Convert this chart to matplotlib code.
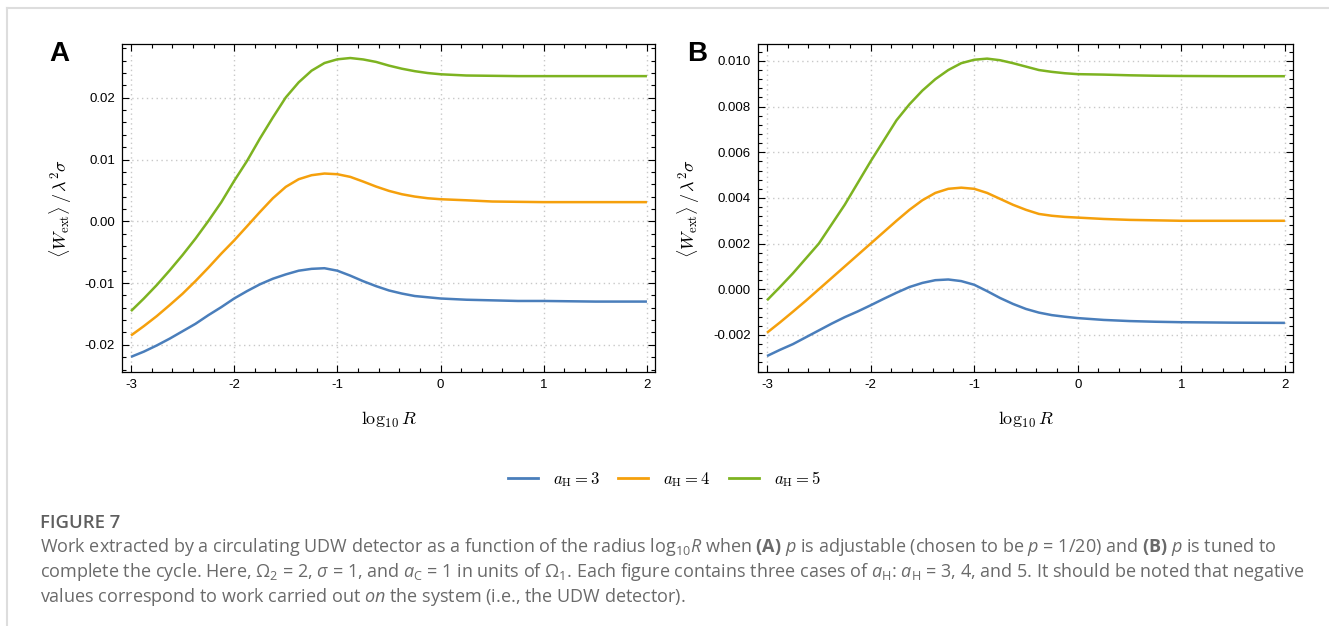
import matplotlib
matplotlib.use("Agg")
import matplotlib.pyplot as plt
from matplotlib.ticker import MultipleLocator, FormatStrFormatter
from matplotlib.lines import Line2D

plt.rcParams["axes.unicode_minus"] = False
plt.rcParams["font.family"] = ["Liberation Sans", "DejaVu Sans"]
plt.rcParams["mathtext.fontset"] = "custom"
plt.rcParams["mathtext.rm"] = "Open Sans"
plt.rcParams["mathtext.it"] = "Open Sans:italic"
plt.rcParams["mathtext.bf"] = "Open Sans:bold"

# values
log_r = [-3, -2.875, -2.75, -2.625, -2.5, -2.375, -2.25, -2.125, -2, -1.875,
         -1.75, -1.625, -1.5, -1.375, -1.25, -1.125, -1, -0.875, -0.75, -0.625,
         -0.5, -0.375, -0.25, -0.125, 0, 0.25, 0.5, 0.75, 1, 1.5, 2]

# panel A (p = 1/20)
a_h3 = [-0.02195, -0.0211, -0.0201, -0.0190, -0.0178, -0.0166, -0.0152, -0.0139,
        -0.0125, -0.0113, -0.0102, -0.0093, -0.0086, -0.0080, -0.0077, -0.0076,
        -0.0080, -0.0088, -0.0097, -0.0105, -0.0112, -0.0117, -0.0121, -0.0123,
        -0.0125, -0.0127, -0.0128, -0.0129, -0.0129, -0.0130, -0.0130]
a_h4 = [-0.01849, -0.01697, -0.01535, -0.01357, -0.01173, -0.00968, -0.00751,
        -0.00524, -0.0031, -0.0008, 0.00151, 0.00373, 0.00557, 0.00681, 0.00746,
        0.00773, 0.00762, 0.00719, 0.00643, 0.00562, 0.00492, 0.00438, 0.00400,
        0.00373, 0.00357, 0.0034, 0.0032, 0.00315, 0.0031, 0.0031, 0.0031]
a_h5 = [-0.01454, -0.0125, -0.01032, -0.00795, -0.00546, -0.00281, 0.00005,
        0.00308, 0.00654, 0.00978, 0.01341, 0.01681, 0.02005, 0.02249, 0.02438,
        0.02562, 0.02622, 0.02643, 0.0262, 0.0258, 0.0252, 0.0247, 0.0243,
        0.0240, 0.0238, 0.0236, 0.02355, 0.0235, 0.0235, 0.0235, 0.0235]

# panel B (p tuned)
b_h3 = [-0.00292, -0.00265, -0.0024, -0.0021, -0.0018, -0.0015, -0.00122, -0.00097,
        -0.0007, -0.00042, -0.00015, 0.0001, 0.00028, 0.0004, 0.00043, 0.00036,
        0.0002, -0.00008, -0.00038, -0.00064, -0.00086, -0.00102, -0.00113,
        -0.0012, -0.00126, -0.00134, -0.00139, -0.00142, -0.00144, -0.00146, -0.00147]
b_h4 = [-0.0019, -0.00145, -0.00098, -0.0005, 0.0000, 0.0005, 0.0010, 0.0015,
        0.0020, 0.0025, 0.0030, 0.00348, 0.0039, 0.00422, 0.0044, 0.00445,
        0.0044, 0.00422, 0.00396, 0.0037, 0.00348, 0.0033, 0.00322, 0.00317,
        0.00314, 0.00308, 0.00304, 0.00302, 0.0030, 0.0030, 0.0030]
b_h5 = [-0.00048, 0.0001, 0.0007, 0.00135, 0.0020, 0.00285, 0.0037, 0.00465,
        0.0056, 0.0065, 0.0074, 0.0081, 0.0087, 0.0092, 0.0096, 0.0099,
        0.01005, 0.0101, 0.01003, 0.0099, 0.00975, 0.0096, 0.00952, 0.00946,
        0.00942, 0.0094, 0.00937, 0.00935, 0.00934, 0.00933, 0.00933]

labels = ["3", "4", "5"]
colors = ["#4a7ebb", "#f5a00c", "#7db321"]

fig = plt.figure(figsize=(13.29, 6.26), dpi=100)

# thin page frame
fig.add_artist(Line2D([7 / 1329, 1], [1 - 8 / 626] * 2, color="#dddddd", lw=1.5))
fig.add_artist(Line2D([7 / 1329] * 2, [0, 1 - 8 / 626], color="#dddddd", lw=1.5))

ax_a = fig.add_axes([122 / 1329, 1 - 372 / 626, 533 / 1329, 328 / 626])
ax_b = fig.add_axes([758 / 1329, 1 - 372 / 626, 535 / 1329, 328 / 626])

panels = [
    (ax_a, [a_h3, a_h4, a_h5], (-0.0244, 0.0287), 0.01, 0.002, "%.2f", "A", 59),
    (ax_b, [b_h3, b_h4, b_h5], (-0.00362, 0.01074), 0.002, 0.0004, "%.3f", "B", 697),
]

for ax, series, ylim, ymaj, ymin, fmt, letter, lx in panels:
    for ys, c in zip(series, colors):
        ax.plot(log_r, ys, color=c, lw=1.8, solid_capstyle="butt", solid_joinstyle="round")
    ax.set_xlim(-3.087, 2.078)
    ax.set_ylim(*ylim)
    ax.xaxis.set_major_locator(MultipleLocator(1))
    ax.xaxis.set_minor_locator(MultipleLocator(0.2))
    ax.yaxis.set_major_locator(MultipleLocator(ymaj))
    ax.yaxis.set_minor_locator(MultipleLocator(ymin))
    ax.yaxis.set_major_formatter(FormatStrFormatter(fmt))
    ax.tick_params(which="both", direction="in", top=True, right=True,
                   labelsize=9.5, width=0.8, pad=5)
    ax.tick_params(which="major", length=5)
    ax.tick_params(which="minor", length=3)
    ax.grid(True, which="major", color="#c8c8c8", ls=(0, (1, 2.5)), lw=1)
    for s in ax.spines.values():
        s.set_linewidth(0.9)
    ax.set_xlabel(r"$\log_{10} R$", fontsize=13, math_fontfamily="cm", labelpad=14)
    ax.set_ylabel(r"$\langle W_{\rm ext}\rangle\,/\,\lambda^2\sigma$", fontsize=13,
                  math_fontfamily="cm", labelpad=8)
    fig.text(lx / 1329, 1 - 61 / 626, letter, fontsize=20, fontweight="bold",
             ha="center", va="baseline")

handles = [Line2D([], [], color=c, lw=2) for c in colors]
fig.legend(handles, [r"$a_{\rm H} = %s$" % l for l in labels], loc="center",
           bbox_to_anchor=(664 / 1329, 1 - 479 / 626), ncol=3, frameon=False,
           prop={"size": 12, "math_fontfamily": "cm"}, handlelength=1.8,
           columnspacing=1.1, handletextpad=0.9)

fig.text(40 / 1329, 1 - 528 / 626, "FIGURE 7", fontsize=13.3, fontfamily="Open Sans",
         fontweight="semibold", color="#5f5f5f", va="baseline")

caption = [
    r"Work extracted by a circulating UDW detector as a function of the radius log$_{10}$$\mathit{R}$ when "
    r"$\mathbf{(A)}$ $\mathit{p}$ is adjustable (chosen to be $\mathit{p}$ = 1/20) and $\mathbf{(B)}$ $\mathit{p}$ is tuned to",
    r"complete the cycle. Here, $\Omega_2$ = 2, $\mathit{\sigma}$ = 1, and $\mathit{a}_\mathrm{C}$ = 1 in units of "
    r"$\Omega_1$. Each figure contains three cases of $\mathit{a}_\mathrm{H}$: $\mathit{a}_\mathrm{H}$ = 3, 4, and 5. "
    r"It should be noted that negative",
    r"values correspond to work carried out $\mathit{on}$ the system (i.e., the UDW detector).",
]
for i, line in enumerate(caption):
    fig.text(40 / 1329, 1 - (552 + 25 * i) / 626, line, fontsize=13,
             fontfamily="Open Sans", color="#6a6a6a", va="baseline")

fig.savefig("out.png", dpi=100)
